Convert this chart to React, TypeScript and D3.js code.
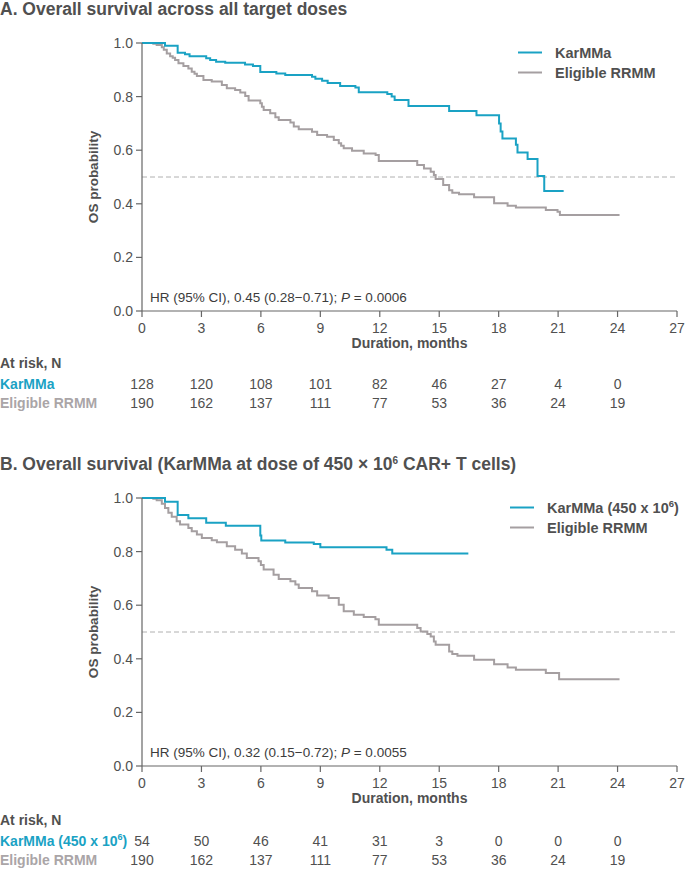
import React from "react";
import * as d3 from "d3";

// ---------- data ----------
const xTicks = [0, 3, 6, 9, 12, 15, 18, 21, 24, 27];
const yTicks = [0, 0.2, 0.4, 0.6, 0.8, 1.0];
const riskTimes = [0, 3, 6, 9, 12, 15, 18, 21, 24];

// Panel A
const karmmaA: [number, number][] = [
  [0, 1], [1.16, 0.99], [1.8, 0.964], [2.17, 0.958], [2.4, 0.951], [3.24, 0.943], [3.44, 0.937],
  [3.74, 0.93], [4.2, 0.926], [5.2, 0.92], [5.6, 0.914], [5.97, 0.892], [6.78, 0.886], [7.23, 0.881],
  [8.58, 0.874], [8.75, 0.867], [9.09, 0.859], [9.37, 0.851], [10.0, 0.84], [10.77, 0.834],
  [10.94, 0.816], [12.38, 0.81], [12.6, 0.8], [12.75, 0.787], [13.45, 0.765], [15.5, 0.746],
  [16.88, 0.73], [18.02, 0.7], [18.1, 0.67], [18.19, 0.644], [18.87, 0.62], [18.95, 0.591],
  [19.46, 0.567], [19.96, 0.504], [20.3, 0.448], [21.28, 0.448],
];
const eligibleA: [number, number][] = [
  [0, 1], [0.57, 0.997], [0.74, 0.993], [1.0, 0.984], [1.1, 0.975], [1.25, 0.961], [1.42, 0.951],
  [1.55, 0.945], [1.67, 0.937], [1.84, 0.924], [2.09, 0.914], [2.34, 0.905], [2.51, 0.893],
  [2.65, 0.885], [2.77, 0.877], [3.1, 0.862], [3.52, 0.856], [4.03, 0.843], [4.28, 0.831],
  [4.7, 0.825], [4.96, 0.815], [5.21, 0.802], [5.38, 0.785], [5.97, 0.775], [6.05, 0.762],
  [6.14, 0.75], [6.47, 0.738], [6.73, 0.723], [6.9, 0.713], [7.49, 0.703], [7.66, 0.688],
  [7.91, 0.678], [8.58, 0.669], [8.84, 0.657], [9.34, 0.65], [9.68, 0.638], [9.93, 0.626],
  [10.05, 0.617], [10.18, 0.607], [10.6, 0.598], [11.19, 0.588], [11.79, 0.582], [11.95, 0.56],
  [13.89, 0.545], [14.23, 0.532], [14.57, 0.52], [14.73, 0.507], [14.82, 0.493], [15.2, 0.47],
  [15.5, 0.451], [15.66, 0.441], [16.0, 0.436], [16.76, 0.424], [17.77, 0.402], [18.45, 0.393],
  [18.87, 0.386], [20.38, 0.377], [20.97, 0.37], [21.09, 0.358], [24.1, 0.358],
];
const riskKarmmaA = [128, 120, 108, 101, 82, 46, 27, 4, 0];
const riskEligibleA = [190, 162, 137, 111, 77, 53, 36, 24, 19];

// Panel B
const karmmaB: [number, number][] = [
  [0, 1], [1.16, 0.986], [1.8, 0.937], [2.34, 0.924], [3.24, 0.908], [4.23, 0.896], [5.97, 0.86],
  [6.02, 0.841], [7.23, 0.834], [8.67, 0.828], [9.0, 0.816], [12.34, 0.807], [12.63, 0.793],
  [16.47, 0.793],
];
const eligibleB: [number, number][] = [
  [0, 1], [0.57, 0.997], [0.74, 0.992], [1.0, 0.979], [1.16, 0.963], [1.33, 0.945], [1.5, 0.93],
  [1.75, 0.913], [1.92, 0.901], [2.34, 0.888], [2.51, 0.876], [2.77, 0.864], [3.02, 0.851],
  [3.52, 0.842], [3.78, 0.835], [4.28, 0.82], [4.7, 0.807], [5.04, 0.793], [5.29, 0.776],
  [5.88, 0.764], [6.0, 0.75], [6.14, 0.733], [6.64, 0.714], [6.9, 0.698], [7.49, 0.689],
  [7.74, 0.677], [7.91, 0.664], [8.58, 0.652], [8.84, 0.636], [9.42, 0.627], [9.93, 0.602],
  [10.18, 0.577], [10.69, 0.564], [11.19, 0.556], [11.78, 0.548], [11.95, 0.527], [13.89, 0.515],
  [14.06, 0.502], [14.4, 0.493], [14.57, 0.483], [14.73, 0.465], [14.82, 0.452], [15.5, 0.427],
  [15.66, 0.418], [15.92, 0.411], [16.76, 0.396], [17.77, 0.38], [18.45, 0.368], [18.87, 0.359],
  [20.38, 0.347], [21.05, 0.324], [24.1, 0.324],
];
const riskKarmmaB = [54, 50, 46, 41, 31, 3, 0, 0, 0];
const riskEligibleB = [190, 162, 137, 111, 77, 53, 36, 24, 19];

// ---------- styles ----------
const TEAL = "#1aa2c4";
const GREY = "#a59fa1";
const TEXT = "#505050";
const AXIS = "#666666";
const FONT = "'Liberation Sans', Arial, sans-serif";

type PanelProps = {
  top: number; // y of the 1.0 line
  title: React.ReactNode;
  titleY: number;
  karmma: [number, number][];
  eligible: [number, number][];
  legendX: number;
  legendKarmma: React.ReactNode;
  hrText: React.ReactNode;
  riskLabel: React.ReactNode;
  riskK: number[];
  riskE: number[];
  riskOffset: number;
};

function Panel(p: PanelProps) {
  const x = d3.scaleLinear().domain([0, 27]).range([142, 677]);
  const y = d3.scaleLinear().domain([0, 1]).range([p.top + 268, p.top]);
  const line = d3
    .line<[number, number]>()
    .x((d) => x(d[0]))
    .y((d) => y(d[1]))
    .curve(d3.curveStepAfter);
  const y0 = y(0);
  const rb = y0 + p.riskOffset;
  return (
    <g fontFamily={FONT}>
      <text x={0} y={p.titleY} fontSize={17.5} fontWeight="bold" fill={TEXT}>
        {p.title}
      </text>
      {/* dashed median line */}
      <line x1={x(0)} x2={x(27)} y1={y(0.5)} y2={y(0.5)} stroke="#b0b0b0" strokeWidth={1} strokeDasharray="5,3" />
      {/* curves */}
      <path d={line(p.eligible) || ""} fill="none" stroke={GREY} strokeWidth={2} />
      <path d={line(p.karmma) || ""} fill="none" stroke={TEAL} strokeWidth={2} />
      {/* y axis */}
      <line x1={x(0)} x2={x(0)} y1={y(0)} y2={y(1)} stroke={AXIS} strokeWidth={1.2} />
      {yTicks.map((t) => (
        <g key={t}>
          <line x1={x(0) - 6} x2={x(0)} y1={y(t)} y2={y(t)} stroke={AXIS} strokeWidth={1.2} />
          <text x={x(0) - 9} y={y(t) + 5} fontSize={14} textAnchor="end" fill={TEXT}>
            {t.toFixed(1)}
          </text>
        </g>
      ))}
      <text
        transform={`translate(98,${y(0.5)}) rotate(-90)`}
        fontSize={13.5}
        fontWeight="bold"
        textAnchor="middle"
        fill={TEXT}
      >
        OS probability
      </text>
      {/* x axis */}
      <line x1={x(0)} x2={x(27)} y1={y0} y2={y0} stroke={AXIS} strokeWidth={1.2} />
      {xTicks.map((t) => (
        <g key={t}>
          <line x1={x(t)} x2={x(t)} y1={y0} y2={y0 + 6} stroke={AXIS} strokeWidth={1.2} />
          <text x={x(t)} y={y0 + 22} fontSize={14} textAnchor="middle" fill={TEXT}>
            {t}
          </text>
        </g>
      ))}
      <text x={x(13.5)} y={y0 + 37} fontSize={14} fontWeight="bold" textAnchor="middle" fill={TEXT}>
        Duration, months
      </text>
      {/* HR text */}
      <text x={150} y={y0 - 9} fontSize={13.5} fill="#3c3c3c">
        {p.hrText}
      </text>
      {/* legend */}
      <line x1={p.legendX} x2={p.legendX + 24} y1={p.top + 9.5} y2={p.top + 9.5} stroke={TEAL} strokeWidth={2} />
      <text x={p.legendX + 37} y={p.top + 14.5} fontSize={14.5} fontWeight="bold" fill={TEXT}>
        {p.legendKarmma}
      </text>
      <line x1={p.legendX} x2={p.legendX + 24} y1={p.top + 29.5} y2={p.top + 29.5} stroke={GREY} strokeWidth={2} />
      <text x={p.legendX + 37} y={p.top + 34.5} fontSize={14.5} fontWeight="bold" fill={TEXT}>
        Eligible RRMM
      </text>
      {/* at risk table */}
      <text x={0} y={rb + 57} fontSize={14} fontWeight="bold" fill={TEXT}>
        At risk, N
      </text>
      <text x={0} y={rb + 78} fontSize={14} fontWeight="bold" fill={TEAL}>
        {p.riskLabel}
      </text>
      <text x={0} y={rb + 97} fontSize={14} fontWeight="bold" fill="#aaa5a7">
        Eligible RRMM
      </text>
      {riskTimes.map((t, i) => (
        <g key={t}>
          <text x={x(t)} y={rb + 78} fontSize={14} textAnchor="middle" fill={TEXT}>
            {p.riskK[i]}
          </text>
          <text x={x(t)} y={rb + 97} fontSize={14} textAnchor="middle" fill={TEXT}>
            {p.riskE[i]}
          </text>
        </g>
      ))}
    </g>
  );
}

export default function App() {
  return (
    <svg
      width={685}
      height={869}
      style={{ position: "absolute", left: 0, top: 0, background: "#fff" }}
    >
      <rect width={685} height={869} fill="#fff" />
      <Panel
        top={43}
        title="A. Overall survival across all target doses"
        titleY={15}
        karmma={karmmaA}
        eligible={eligibleA}
        legendX={518}
        legendKarmma="KarMMa"
        hrText={
          <>
            HR (95% CI), 0.45 (0.28−0.71); <tspan fontStyle="italic">P</tspan> = 0.0006
          </>
        }
        riskLabel="KarMMa"
        riskK={riskKarmmaA}
        riskE={riskEligibleA}
        riskOffset={0}
      />
      <Panel
        top={498}
        title={
          <>
            B. Overall survival (KarMMa at dose of 450 × 10
            <tspan fontSize={10} dy={-6}>6</tspan>
            <tspan dy={6}> CAR+ T cells)</tspan>
          </>
        }
        titleY={470}
        karmma={karmmaB}
        eligible={eligibleB}
        legendX={510}
        legendKarmma={
          <>
            KarMMa (450 x 10<tspan fontSize={9.5} dy={-6}>6</tspan>
            <tspan dy={6}>)</tspan>
          </>
        }
        hrText={
          <>
            HR (95% CI), 0.32 (0.15−0.72); <tspan fontStyle="italic">P</tspan> = 0.0055
          </>
        }
        riskLabel={
          <>
            KarMMa (450 x 10<tspan fontSize={9} dy={-6}>6</tspan>
            <tspan dy={6}>)</tspan>
          </>
        }
        riskK={riskKarmmaB}
        riskE={riskEligibleB}
        riskOffset={1.5}
      />
    </svg>
  );
}
